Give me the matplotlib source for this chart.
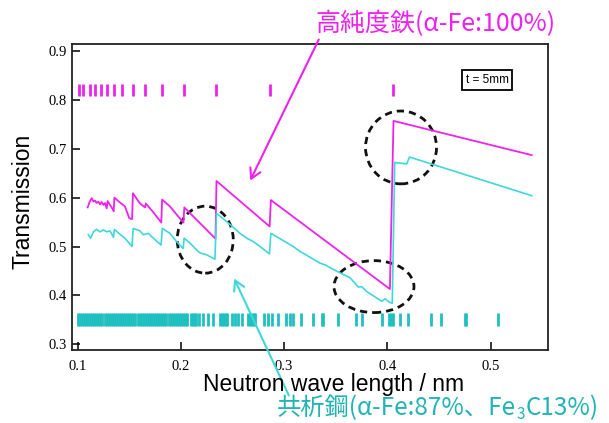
import matplotlib
matplotlib.use("Agg")
import matplotlib.pyplot as plt
from matplotlib.patches import Ellipse, FancyArrowPatch

# ---------------- data ----------------
# alpha-Fe Bragg edge positions (nm)
fe_edges = [0.1013, 0.1047, 0.1124, 0.1170, 0.1222, 0.1282, 0.1351, 0.1433,
            0.1532, 0.1655, 0.1813, 0.2027, 0.2340, 0.2866, 0.4054]
# Fe3C reflection positions (nm)
fe3c_edges = [0.100, 0.102, 0.104, 0.106, 0.108, 0.110, 0.112, 0.114, 0.116,
              0.118, 0.120, 0.122, 0.124, 0.126, 0.128, 0.130, 0.132, 0.134,
              0.136, 0.138, 0.140, 0.142, 0.144, 0.146, 0.148, 0.150, 0.152,
              0.154, 0.156, 0.158, 0.160, 0.162, 0.164, 0.166, 0.168, 0.170,
              0.172, 0.174, 0.176, 0.178, 0.180, 0.182, 0.184, 0.186, 0.188,
              0.190, 0.192, 0.194, 0.196, 0.198, 0.200, 0.202, 0.204, 0.206,
              0.2098, 0.2115, 0.2132, 0.2150, 0.2179, 0.2217, 0.2260, 0.2308,
              0.2380, 0.2398, 0.2416, 0.2434, 0.2444, 0.2492, 0.2524, 0.2550,
              0.2589, 0.2655, 0.2672, 0.2690, 0.2708, 0.2718, 0.2805, 0.2841,
              0.2886, 0.2944, 0.3016, 0.3057, 0.3089, 0.3161, 0.3277, 0.3364,
              0.3380, 0.3525, 0.3700, 0.3750, 0.3946, 0.4020, 0.4040, 0.4058,
              0.4123, 0.4204, 0.4423, 0.4520, 0.4748, 0.4766, 0.5076]

# pure iron transmission
fe_wl = [0.1097, 0.1113, 0.1136, 0.1152, 0.1168, 0.1184, 0.1200, 0.1216,
         0.1232, 0.1249, 0.1265, 0.1281, 0.1290, 0.1313, 0.1329, 0.1349,
         0.1356, 0.1410, 0.1458, 0.1500, 0.1527, 0.1535, 0.1604, 0.1652,
         0.1660, 0.1733, 0.1810, 0.1818, 0.1894, 0.1980, 0.2025, 0.2033,
         0.2335, 0.2345, 0.2860, 0.2872, 0.4025, 0.4060, 0.5399]
fe_tr = [0.580, 0.590, 0.599, 0.592, 0.594, 0.589, 0.592, 0.586,
         0.591, 0.585, 0.589, 0.578, 0.593, 0.585, 0.580, 0.572,
         0.600, 0.590, 0.582, 0.558, 0.556, 0.609, 0.588, 0.580,
         0.588, 0.570, 0.549, 0.596, 0.582, 0.560, 0.549, 0.580,
         0.516, 0.634, 0.541, 0.595, 0.413, 0.757, 0.687]

# eutectoid steel transmission
st_wl = [0.1103, 0.1126, 0.1152, 0.1184, 0.1216, 0.1249, 0.1281, 0.1313,
         0.1347, 0.1356, 0.1410, 0.1458, 0.1526, 0.1538, 0.1604, 0.1636,
         0.1685, 0.1733, 0.1808, 0.1820, 0.1894, 0.1959, 0.2022, 0.2032,
         0.2088, 0.2153, 0.2185, 0.2250, 0.2330, 0.2345, 0.2444, 0.2573,
         0.2638, 0.2702, 0.2767, 0.2858, 0.2872, 0.3089, 0.3154, 0.3283,
         0.3348, 0.3397, 0.3477, 0.3639, 0.3720, 0.3752, 0.3800, 0.3946,
         0.3978, 0.4020, 0.4048, 0.4072, 0.4188, 0.4215, 0.5399]
st_tr = [0.524, 0.517, 0.530, 0.535, 0.530, 0.534, 0.530, 0.532,
         0.519, 0.535, 0.525, 0.517, 0.500, 0.537, 0.532, 0.524,
         0.527, 0.517, 0.503, 0.537, 0.527, 0.510, 0.496, 0.517,
         0.507, 0.493, 0.487, 0.483, 0.474, 0.568, 0.551, 0.527,
         0.517, 0.510, 0.500, 0.485, 0.527, 0.500, 0.490, 0.474,
         0.466, 0.4625, 0.453, 0.436, 0.417, 0.418, 0.408, 0.388,
         0.393, 0.386, 0.384, 0.672, 0.669, 0.683, 0.604]

xticks = [0.1, 0.2, 0.3, 0.4, 0.5]
yticks = [0.3, 0.4, 0.5, 0.6, 0.7, 0.8, 0.9]

# ---------------- style ----------------
MAG = "#ee22ee"
CYL = "#3fd8d8"
CYT = "#1fc0c0"
CYTXT = "#22b4b4"
W, H = 609, 423
CJK = ["Noto Sans CJK JP", "DejaVu Sans"]

plt.rcParams["font.family"] = CJK

fig = plt.figure(figsize=(W / 100, H / 100), dpi=100)
ax = fig.add_axes([72 / W, 1 - 350 / H, (548 - 72) / W, (350 - 44) / H])

def fp(x, y):
    return (x / W, 1 - y / H)

ax.vlines(fe_edges, 0.808, 0.832, color=MAG, lw=2.0)
ax.vlines(fe3c_edges, 0.337, 0.364, color=CYT, lw=2.0)
ax.plot(fe_wl, fe_tr, color=MAG, lw=1.3)
ax.plot(st_wl, st_tr, color=CYL, lw=1.2)

ax.set_xlim(0.0945, 0.5557)
ax.set_ylim(0.2883, 0.9143)
ax.set_xticks(xticks)
ax.set_yticks(yticks)
ax.set_xticklabels([f"{t:.1f}" for t in xticks], family="Liberation Serif", fontsize=10.5)
ax.set_yticklabels([f"{t:.1f}" for t in yticks], family="Liberation Serif", fontsize=10.5)
ax.tick_params(direction="in", length=6, width=1.1, top=False, right=False)
ax.tick_params(axis="x", pad=7)
ax.tick_params(axis="y", pad=4)
for s in ax.spines.values():
    s.set_linewidth(1.3)
    s.set_color("#222222")

# dashed ellipses
for (cx, cy, w, h) in [(0.2236, 0.514, 0.0543, 0.137),
                       (0.4133, 0.7027, 0.0688, 0.149),
                       (0.3871, 0.418, 0.0775, 0.1063)]:
    ax.add_patch(Ellipse((cx, cy), w, h, fill=False, ec="#111111", lw=2.0,
                         ls=(0, (2.6, 1.8))))

# t = 5mm box
fig.text(*fp(487, 80), "t = 5mm", fontsize=8.5,
         family="Liberation Sans", ha="center", va="center",
         bbox=dict(boxstyle="square,pad=0.3", fc="white", ec="black", lw=1.3))

# axis labels
fig.text(*fp(23, 201), "Transmission", rotation=90, ha="center", va="center",
         fontsize=16.5, family="Liberation Sans")
fig.text(*fp(334, 384), "Neutron wave length / nm", ha="center", va="center",
         fontsize=16.5, family="Liberation Sans")

# annotations
fig.text(*fp(315, 24), "高純度鉄(α-Fe:100%)", ha="left", va="center",
         fontsize=18, color=MAG, family=CJK)
base_y = 415
t1 = fig.text(*fp(277, base_y), "共析鋼(α-Fe:87%、Fe", ha="left", va="baseline",
              fontsize=17.5, color=CYTXT, family=CJK)
fig.canvas.draw()
r = fig.canvas.get_renderer()
bb1 = t1.get_window_extent(r)
t2 = fig.text((bb1.x1 + 0.5) / W, 1 - (base_y + 4) / H, "3", ha="left",
              va="baseline", fontsize=11, color=CYTXT, family=CJK)
fig.canvas.draw()
bb2 = t2.get_window_extent(r)
fig.text((bb2.x1 + 0.5) / W, 1 - base_y / H, "C13%)", ha="left", va="baseline",
         fontsize=17.5, color=CYTXT, family=CJK)

fig.add_artist(FancyArrowPatch(
    fp(320, 37), fp(249, 183), transform=fig.transFigure,
    arrowstyle="->,head_length=7,head_width=4", color=MAG, lw=1.5))
fig.add_artist(FancyArrowPatch(
    fp(290, 398), fp(233, 276), transform=fig.transFigure,
    arrowstyle="->,head_length=7,head_width=4", color=CYL, lw=1.5))

fig.savefig("out.png", dpi=100)
